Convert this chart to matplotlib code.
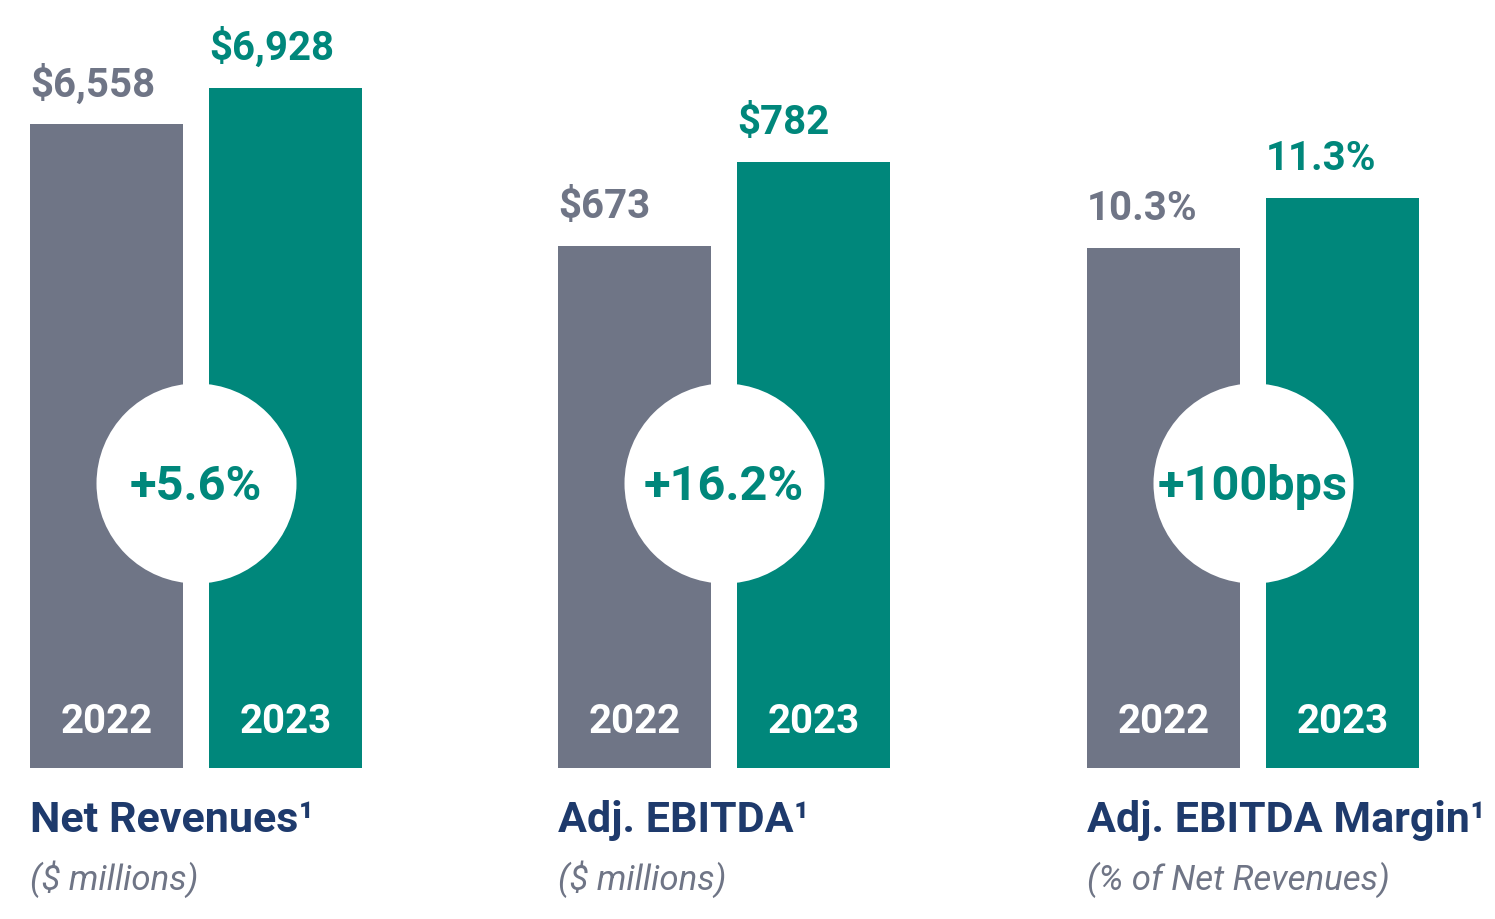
import matplotlib.pyplot as plt

plt.rcParams['font.family'] = ['Roboto', 'DejaVu Sans']

# data
years = ['2022', '2023']
metrics = ['Net Revenues', 'Adj. EBITDA', 'Adj. EBITDA Margin']
units = ['($ millions)', '($ millions)', '(% of Net Revenues)']
values_2022 = [6558, 673, 10.3]
values_2023 = [6928, 782, 11.3]
labels_2022 = ['$6,558', '$673', '10.3%']
labels_2023 = ['$6,928', '$782', '11.3%']
changes = ['+5.6%', '+16.2%', '+100bps']

GRAY = '#6f7586'
TEAL = '#00877b'
NAVY = '#1e3a6c'

W, H, DPI = 1495, 919, 100
fig = plt.figure(figsize=(W / DPI, H / DPI), dpi=DPI)

# layout in pixels
panel_left = [30, 558, 1087]
panel_w = 332
bar_bottom = 768
tall_px = [680, 606, 570]   # pixel height of the taller bar in each panel
half = 0.4274
bar_w = 0.855
circle_y = 483
circle_r = 100

for i in range(3):
    ax = fig.add_axes([panel_left[i] / W, (H - bar_bottom) / H, panel_w / W, bar_bottom / H])
    vals = [values_2022[i], values_2023[i]]
    labs = [labels_2022[i], labels_2023[i]]
    ymax = max(vals) * bar_bottom / tall_px[i]
    ax.set_xlim(-half, 1 + half)
    ax.set_ylim(0, ymax)
    ax.axis('off')
    ax.bar([0, 1], vals, width=bar_w, color=[GRAY, TEAL], zorder=1)

    for x, v, lab, col in zip([0, 1], vals, labs, [GRAY, TEAL]):
        ax.annotate(lab, (x - bar_w / 2, v), xytext=(0, 28), textcoords='offset pixels',
                    ha='left', va='baseline', color=col, fontsize=29, fontweight='bold',
                    annotation_clip=False)
    for x, yr in zip([0, 1], years):
        ax.annotate(yr, (x, 0), xytext=(0, 35), textcoords='offset pixels',
                    ha='center', va='baseline', color='white', fontsize=29, fontweight='bold')

    cy = ymax * (bar_bottom - circle_y) / bar_bottom
    ax.scatter([0.5], [cy], s=(2 * circle_r * 72 / DPI) ** 2, color='white',
               linewidths=0, zorder=3, clip_on=False)
    ax.annotate(changes[i], (0.5, cy), xytext=(0, -4), textcoords='offset pixels',
                ha='center', va='center', color=TEAL, fontsize=35, fontweight='bold', zorder=4)

    fig.text(panel_left[i] / W, (H - 832) / H, metrics[i] + '\u00b9', ha='left', va='baseline',
             color=NAVY, fontsize=31, fontweight='bold')
    fig.text(panel_left[i] / W, (H - 890) / H, units[i], ha='left', va='baseline',
             color=GRAY, fontsize=25, fontstyle='italic')

fig.savefig('out.png', dpi=DPI)
